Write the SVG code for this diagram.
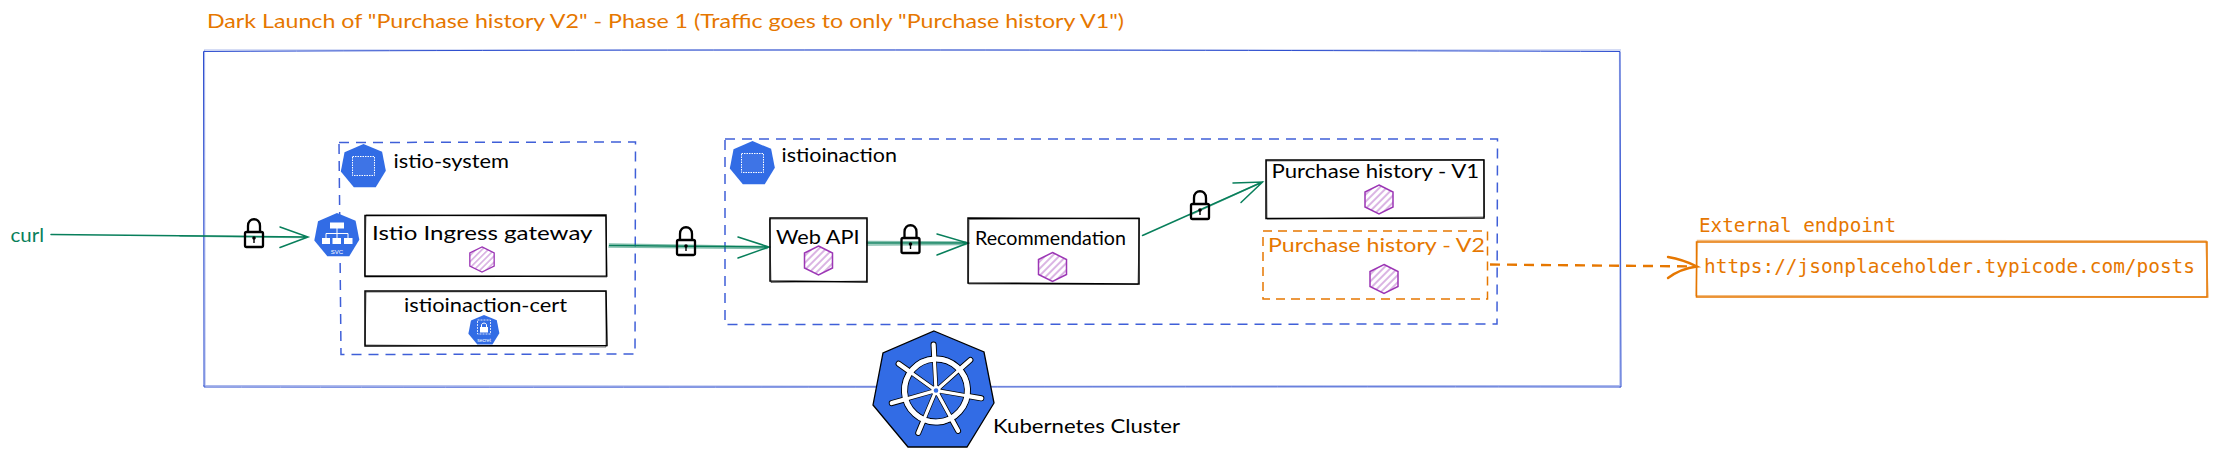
<svg xmlns="http://www.w3.org/2000/svg" width="2216" height="458" viewBox="0 0 2216 458">
<style>
text{font-family:"Lato","Noto Sans",sans-serif;font-size:20px;fill:#000}
.or{fill:#e67700}
.mono{font-family:"DejaVu Sans Mono","Liberation Mono",monospace;font-size:19.5px;fill:#e67700}
.gr{fill:#087f5b}
.b{fill:none;stroke:#000;stroke-width:1.5}
.b2{fill:none;stroke:#000;stroke-width:1;opacity:.55}
.bl{fill:none;stroke:#2f4fd0;stroke-width:1}
.bl2{fill:none;stroke:#2f4fd0;stroke-width:1.2;opacity:.4}
.bd{fill:none;stroke:#3f5fd8;stroke-width:1.5;stroke-dasharray:10 7}
.od{fill:none;stroke:#e67700;stroke-width:1.5;stroke-dasharray:9 6}
.o{fill:none;stroke:#e67700;stroke-width:1.5}
.o2{fill:none;stroke:#e67700;stroke-width:1.5;opacity:.5}
.g{fill:none;stroke:#087f5b;stroke-width:1.5;stroke-linecap:round}
.g2{fill:none;stroke:#087f5b;stroke-width:1.6;opacity:.5;stroke-linecap:round}
.lk{fill:none;stroke:#000;stroke-width:2.3}
.k{fill:#326ce5}
.w{fill:#fff}
</style>
<defs>
<pattern id="hatch" width="5" height="5" patternUnits="userSpaceOnUse" patternTransform="rotate(-45)">
<line x1="0" y1="2" x2="5" y2="2" stroke="#9c36b5" stroke-width="1" opacity=".75"/>
</pattern>
<polygon id="hept" points="0,-59 50,-38 60,13 33,57 -26,57 -61,15 -51,-37"/>
<g id="pod">
<polygon points="0,-14.5 14,-7.5 14,7.5 0,14.5 -14,7.5 -14,-7.5" fill="url(#hatch)" stroke="#9c36b5" stroke-width="1.5"/>
</g>
<g id="lock">
<rect x="-9" y="-1" width="18" height="15" rx="1.5" class="lk"/>
<path d="M-6,-1V-7C-6,-16 6,-16 6,-7V-1" class="lk"/>
<circle cx="0" cy="5" r="1.8" fill="#000"/><path d="M0,5V10" stroke="#000" stroke-width="1.4"/>
</g>
<g id="ns">
<use href="#hept" class="k" transform="scale(.372)"/>
<rect x="-11" y="-9.5" width="22" height="19" fill="#fff" fill-opacity=".06" stroke="#fff" stroke-width="1" stroke-dasharray="1.5 1"/>
</g>
<g id="spokes">
<path d="M0,-5V-31"/><path d="M0,-5V-31" transform="rotate(51.4)"/><path d="M0,-5V-31" transform="rotate(102.8)"/><path d="M0,-5V-31" transform="rotate(154.3)"/><path d="M0,-5V-31" transform="rotate(205.7)"/><path d="M0,-5V-31" transform="rotate(257.1)"/><path d="M0,-5V-31" transform="rotate(308.6)"/>
</g>
<g id="handles">
<path d="M0,-33V-46"/><path d="M0,-33V-46" transform="rotate(51.4)"/><path d="M0,-33V-46" transform="rotate(102.8)"/><path d="M0,-33V-46" transform="rotate(154.3)"/><path d="M0,-33V-46" transform="rotate(205.7)"/><path d="M0,-33V-46" transform="rotate(257.1)"/><path d="M0,-33V-46" transform="rotate(308.6)"/>
</g>
</defs>

<g id="title"><text class="or" x="207" y="28" textLength="917" lengthAdjust="spacingAndGlyphs">Dark Launch of "Purchase history V2" - Phase 1 (Traffic goes to only "Purchase history V1")</text></g>

<g id="cluster">
<path class="bl" d="M203.5,51.5C700,49 1200,50 1620,51.5L1621,387C1200,386.5 600,387.5 204,387L203.5,51.5"/>
<path class="bl2" d="M204,50C700,52 1100,47.5 1621,50M1619.5,51L1620,388M1620,385.5C1200,388 600,385 203,385.5M205,387L204.5,50"/>
</g>

<g id="istio-system">
<path class="bd" d="M339,142.5L635.5,142L635,354L341,354.5L339,142.5"/>
<use href="#ns" x="363.5" y="166"/>
<text x="393.5" y="168" textLength="115.5" lengthAdjust="spacingAndGlyphs">istio-system</text>
</g>

<g id="istioinaction">
<path class="bd" d="M725,139L1497.5,139L1497,324L725,324.5L725,139"/>
<use href="#ns" x="752.5" y="163"/>
<text x="781.5" y="161.5" textLength="115.5" lengthAdjust="spacingAndGlyphs">istioinaction</text>
</g>

<g id="connectors">
<path class="g" d="M51,234.5L308,237M280,227L308,237L280,247.5"/>
<path class="g2" d="M180,236L306,237.5"/>
<path class="g" d="M609.5,245.5L769,247M738,237L769,247L738,258"/>
<path class="g2" d="M609.5,244L767,246.5M609,247L767,248.5"/>
<path class="g" d="M867,243L968,243M937,234L968,243L937,255"/>
<path class="g2" d="M867,241.5L966,242M867,245L966,244.5"/>
<path class="g" d="M1142.5,235.5L1262.5,182M1233,183L1262.5,182L1241,202.5"/>
<path class="g2" d="M1190,215L1260,183"/>
<path fill="none" stroke="#e67700" stroke-width="2.4" stroke-dasharray="10 7" d="M1490,264.5L1697,266.5"/>
<path fill="none" stroke="#e67700" stroke-width="2.4" stroke-linecap="round" d="M1668,257C1680,259 1690,263 1697,266.5C1685,268 1676,272 1668,278"/>
</g>

<g id="lock-1"><use href="#lock" x="254" y="233"/></g>
<g id="lock-2"><use href="#lock" x="686" y="241"/></g>
<g id="lock-3"><use href="#lock" x="910.5" y="239"/></g>
<g id="lock-4"><use href="#lock" x="1200" y="205"/></g>

<g id="curl"><text class="gr" x="10.5" y="242" textLength="33.5" lengthAdjust="spacingAndGlyphs">curl</text></g>

<g id="svc">
<use href="#hept" class="k" transform="translate(337 235) scale(.372)"/>
<g class="w">
<rect x="330" y="222.5" width="14" height="6"/><rect x="322" y="238" width="8" height="6"/><rect x="332.5" y="238" width="8.5" height="6"/><rect x="344" y="238" width="8.5" height="6"/>
</g>
<path d="M337,228V238M326,238V233.5H348V238" fill="none" stroke="#fff" stroke-width="1"/>
<text x="337" y="253.5" text-anchor="middle" style="font-size:6px;fill:#fff;font-family:'Liberation Sans',sans-serif">SVC</text>
</g>

<g id="ingress">
<path class="b" d="M365,215.5L606,215L606.5,276L365,276.5Z"/>
<path class="b2" d="M366,215L606,216.5L607,277L364.5,275.5Z"/>
<text x="372" y="240" textLength="220.5" lengthAdjust="spacingAndGlyphs">Istio Ingress gateway</text>
<use href="#pod" transform="translate(482 259.5) scale(.87)"/>
</g>

<g id="cert">
<path class="b" d="M365,291L606,291L607,345.5L365,346Z"/>
<path class="b2" d="M366,292L606,291.5L606,347L365,345Z"/>
<text x="404" y="312" textLength="163" lengthAdjust="spacingAndGlyphs">istioinaction-cert</text>
<use href="#hept" class="k" transform="translate(484 330) scale(.256)"/>
<rect x="477.5" y="320" width="13" height="14" fill="none" stroke="#fff" stroke-width=".8" stroke-dasharray="2 1"/>
<rect x="480" y="327" width="8" height="5.5" fill="#fff"/>
<path d="M481.5,327V325C481.5,322.5 486.5,322.5 486.5,325V327" fill="none" stroke="#fff" stroke-width="1"/>
<text x="484" y="341.5" text-anchor="middle" style="font-size:5px;fill:#fff;font-family:'Liberation Sans',sans-serif">secret</text>
</g>

<g id="web-api">
<path class="b" d="M770,218L867,218L867,282L770,281Z"/>
<path class="b2" d="M769.5,219L867,219L866.5,281L771,282.5Z"/>
<text x="776" y="244" textLength="83.5" lengthAdjust="spacingAndGlyphs">Web API</text>
<use href="#pod" x="818.5" y="260.5"/>
</g>

<g id="recommendation">
<path class="b" d="M968,218L1139,218.5L1139,284L968,283Z"/>
<path class="b2" d="M969,219.5L1139.5,218L1138,284.5L968.5,284Z"/>
<text x="975" y="245" textLength="151" lengthAdjust="spacingAndGlyphs">Recommendation</text>
<use href="#pod" x="1052.5" y="267"/>
</g>

<g id="purchase-v1">
<path class="b" d="M1266,160L1484,160L1484,218L1266,218.5Z"/>
<path class="b2" d="M1266.5,161L1483.5,159.5L1484.5,217L1267,219Z"/>
<text x="1271.5" y="178" textLength="207.5" lengthAdjust="spacingAndGlyphs">Purchase history - V1</text>
<use href="#pod" x="1379" y="199.5"/>
</g>

<g id="purchase-v2">
<path class="od" d="M1263,231L1487.5,231L1487.5,299L1263,299Z"/>
<text class="or" x="1268" y="252" textLength="217" lengthAdjust="spacingAndGlyphs">Purchase history - V2</text>
<use href="#pod" x="1384" y="279"/>
</g>

<g id="external">
<text class="mono" x="1699" y="231.5" textLength="197" lengthAdjust="spacingAndGlyphs">External endpoint</text>
<path class="o" d="M1696.5,242L2207,242L2207,297L1696.5,297Z"/>
<path class="o2" d="M1697.5,240.5L2206,241L2208,297L1696,295.5Z"/>
<text class="mono" x="1704" y="273" textLength="491" lengthAdjust="spacingAndGlyphs">https://jsonplaceholder.typicode.com/posts</text>
</g>

<g id="kubernetes">
<polygon points="934,331 984,352 994,403 967,447 908,447 873,405 883,353" fill="#326ce5" stroke="#000" stroke-width="1.3"/>
<g transform="translate(936 390.5) rotate(-3)" fill="none" stroke-linecap="round">
<g stroke="#000" stroke-width="1">
<circle r="34.5"/><circle r="28.5"/>
</g>
<use href="#handles" stroke="#000" stroke-width="6"/>
<use href="#spokes" stroke="#000" stroke-width="4.6"/>
<use href="#handles" stroke="#fff" stroke-width="4.2"/>
<circle r="31.5" stroke="#fff" stroke-width="5.2"/>
<use href="#spokes" stroke="#fff" stroke-width="3.2"/>
<circle r="3.5" fill="#326ce5" stroke="#fff" stroke-width="2.4"/>
</g>
<text x="993" y="433" textLength="187" lengthAdjust="spacingAndGlyphs">Kubernetes Cluster</text>
</g>
</svg>
